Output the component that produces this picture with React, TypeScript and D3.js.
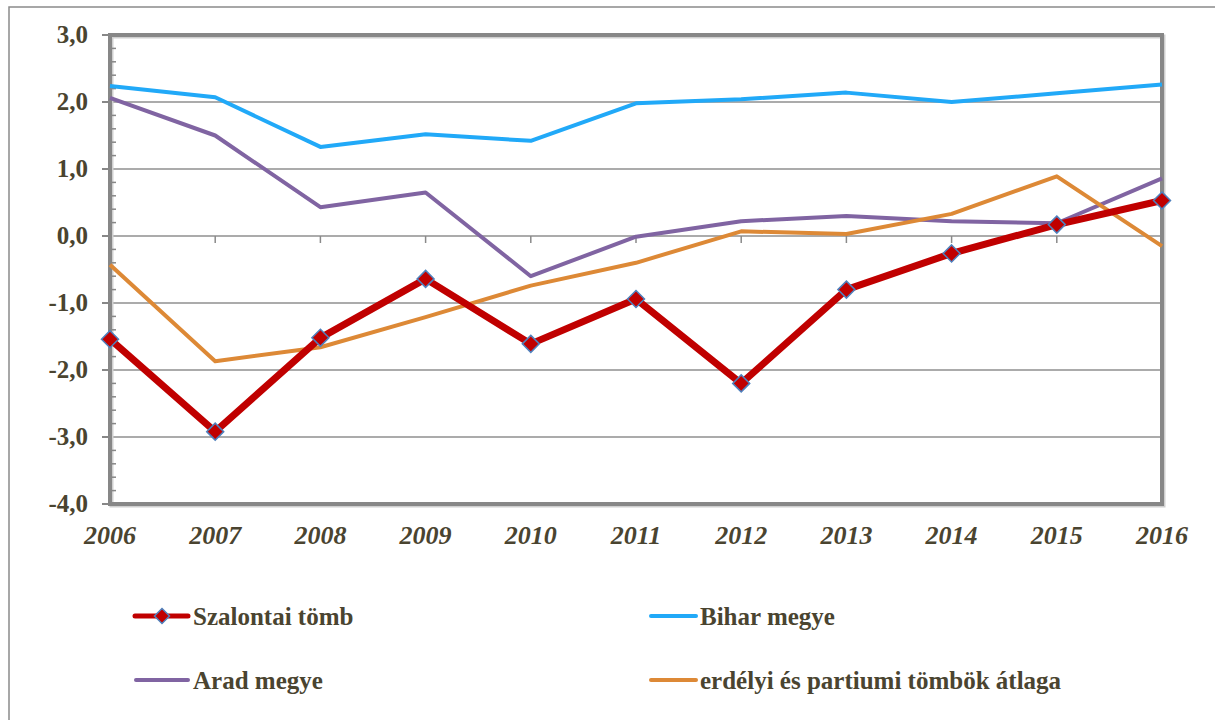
import React from "react";
import * as d3 from "d3";

const years = ["2006", "2007", "2008", "2009", "2010", "2011", "2012", "2013", "2014", "2015", "2016"];
const yTicks = [3, 2, 1, 0, -1, -2, -3, -4];

const szalontai = [-1.54, -2.92, -1.52, -0.64, -1.61, -0.94, -2.2, -0.8, -0.26, 0.17, 0.53];
const bihar = [2.24, 2.07, 1.33, 1.52, 1.42, 1.98, 2.04, 2.14, 2.0, 2.13, 2.26];
const arad = [2.06, 1.5, 0.43, 0.65, -0.6, -0.01, 0.22, 0.3, 0.22, 0.19, 0.86];
const atlag = [-0.43, -1.87, -1.66, -1.21, -0.74, -0.4, 0.07, 0.03, 0.33, 0.89, -0.15];

const W = 1215;
const H = 720;
const left = 110;
const right = 1162;
const top = 35;
const bottom = 504;
const textColor = "#4a4430";
const font = "Liberation Serif, Times New Roman, Times, DejaVu Serif, serif";

const RED = "#c00000";
const BLUE = "#21a9f8";
const PURPLE = "#8064a2";
const ORANGE = "#dd8936";

export default function App() {
  const x = d3.scalePoint<string>().domain(years).range([left, right]);
  const y = d3.scaleLinear().domain([-4, 3]).range([bottom, top]);

  const line = d3
    .line<number>()
    .x((_, i) => x(years[i]) as number)
    .y((d) => y(d));

  // minor ticks every 0.2
  const minor = d3.range(-4, 3.001, 0.2).filter((v) => Math.abs(v - Math.round(v)) > 0.01);

  const diamond = (cx: number, cy: number, r: number) =>
    `M${cx},${cy - r}L${cx + r},${cy}L${cx},${cy + r}L${cx - r},${cy}Z`;

  return (
    <svg
      width={W}
      height={H}
      style={{ position: "absolute", left: 0, top: 0, background: "white", fontFamily: font }}
    >
      {/* outer frame */}
      <rect x={9} y={7} width={W} height={H} fill="none" stroke="#8a8a8a" strokeWidth={1.5} />

      {/* grid lines */}
      {yTicks.map((t) => (
        <line key={t} x1={left} x2={right} y1={y(t)} y2={y(t)} stroke="#ababab" strokeWidth={2} />
      ))}

      {/* category ticks on zero line */}
      {years.slice(1, -1).map((yr) => (
        <line key={yr} x1={x(yr)} x2={x(yr)} y1={y(0)} y2={y(0) + 7} stroke="#8a8a8a" strokeWidth={1.5} />
      ))}

      {/* plot border with soft shadow */}
      <rect
        x={left + 1.5}
        y={top + 1.5}
        width={right - left}
        height={bottom - top}
        fill="none"
        stroke="#cfcfcf"
        strokeWidth={4}
      />
      <rect
        x={left}
        y={top}
        width={right - left}
        height={bottom - top}
        fill="none"
        stroke="#878787"
        strokeWidth={4}
      />

      {/* y axis ticks */}
      {yTicks.map((t) => (
        <line key={"m" + t} x1={left - 8} x2={left} y1={y(t)} y2={y(t)} stroke="#878787" strokeWidth={2} />
      ))}
      {minor.map((t) => (
        <line key={"n" + t} x1={left} x2={left + 6} y1={y(t)} y2={y(t)} stroke="#878787" strokeWidth={1.5} />
      ))}

      {/* y labels */}
      {yTicks.map((t) => (
        <text
          key={"l" + t}
          x={88}
          y={y(t) + 8}
          textAnchor="end"
          fontWeight="bold"
          fontSize={25}
          fill={textColor}
        >
          {t.toFixed(1).replace(".", ",")}
        </text>
      ))}

      {/* x labels */}
      {years.map((yr) => (
        <text
          key={yr}
          x={x(yr)}
          y={544}
          textAnchor="middle"
          fontWeight="bold"
          fontStyle="italic"
          fontSize={26}
          fill={textColor}
        >
          {yr}
        </text>
      ))}

      {/* series */}
      <path d={line(bihar) as string} fill="none" stroke={BLUE} strokeWidth={4} strokeLinejoin="round" />
      <path d={line(arad) as string} fill="none" stroke={PURPLE} strokeWidth={4} strokeLinejoin="round" />
      <path d={line(atlag) as string} fill="none" stroke={ORANGE} strokeWidth={4} strokeLinejoin="round" />
      <path d={line(szalontai) as string} fill="none" stroke={RED} strokeWidth={7} strokeLinejoin="round" />
      {szalontai.map((v, i) => (
        <path
          key={i}
          d={diamond(x(years[i]) as number, y(v), 8.5)}
          fill={RED}
          stroke="#4f81bd"
          strokeWidth={1.5}
        />
      ))}

      {/* legend */}
      <g fontWeight="bold" fontSize={25} fill={textColor}>
        <line x1={135} x2={188} y1={616} y2={616} stroke={RED} strokeWidth={5} strokeLinecap="round" />
        <path d={diamond(162, 616, 7.5)} fill={RED} stroke="#4f81bd" strokeWidth={1.5} />
        <text x={193} y={625}>Szalontai tömb</text>

        <line x1={136} x2={188} y1={680} y2={680} stroke={PURPLE} strokeWidth={4} strokeLinecap="round" />
        <text x={193} y={689}>Arad megye</text>

        <line x1={651} x2={696} y1={616} y2={616} stroke={BLUE} strokeWidth={4} strokeLinecap="round" />
        <text x={700} y={625}>Bihar megye</text>

        <line x1={651} x2={696} y1={680} y2={680} stroke={ORANGE} strokeWidth={4} strokeLinecap="round" />
        <text x={700} y={689}>erdélyi és partiumi tömbök átlaga</text>
      </g>
    </svg>
  );
}
